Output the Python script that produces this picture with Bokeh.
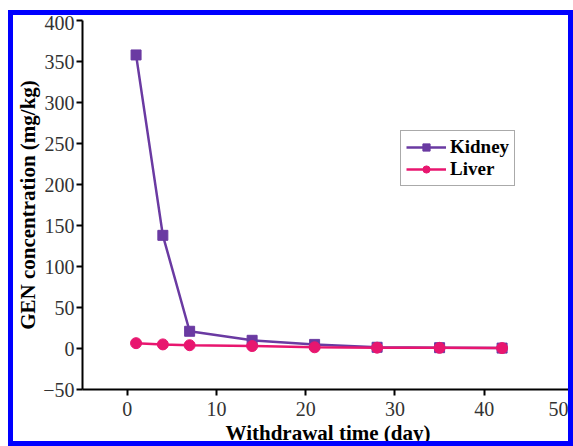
from bokeh.plotting import figure
from bokeh.layouts import column, row
from bokeh.models import Legend, LegendItem, Range1d, ColumnDataSource, Spacer
from bokeh.embed import file_html
from bokeh.resources import INLINE

days = [1, 4, 7, 14, 21, 28, 35, 42]
kidney = [358, 138, 21, 10, 5, 1.5, 1, 0.5]
liver = [6.5, 5, 4, 3, 1.5, 1, 0.8, 0.5]
x_ticks = [0, 10, 20, 30, 40, 50]
y_ticks = [-50, 0, 50, 100, 150, 200, 250, 300, 350, 400]
x_title = "Withdrawal time (day)"
y_title = "GEN concentration (mg/kg)"

KID = "#6a3aa2"
LIV = "#e8166f"
SERIF = "Liberation Serif"

p = figure(width=565, height=436, output_backend="svg", toolbar_location=None,
           x_range=Range1d(-5, 50), y_range=Range1d(-50, 400),
           min_border_left=69, min_border_right=5, min_border_top=5, min_border_bottom=62,
           styles={"border": "5px solid #0000ff"})
p.outline_line_color = None
p.grid.visible = False
p.background_fill_color = "white"
p.border_fill_color = "white"

for ax in (p.xaxis, p.yaxis):
    ax.axis_line_width = 2
    ax.axis_line_color = "black"
    ax.major_tick_line_width = 2
    ax.minor_tick_line_width = 2
    ax.major_tick_out = 6
    ax.major_tick_in = 0
    ax.minor_tick_out = 4
    ax.minor_tick_in = 0
    ax.major_label_text_font = SERIF
    ax.major_label_text_font_size = "20px"
    ax.major_label_text_color = "#333333"
    ax.axis_label_text_font = SERIF
    ax.axis_label_text_font_style = "bold"
    ax.axis_label_text_font_size = "21px"
    ax.axis_label_text_color = "black"
p.xaxis.ticker = x_ticks
p.yaxis.ticker = y_ticks
p.xaxis.ticker.num_minor_ticks = 2
p.yaxis.ticker.num_minor_ticks = 2
p.xaxis.major_label_standoff = 6
p.yaxis.major_label_standoff = 2

p.yaxis.axis_label = y_title
p.yaxis.axis_label_standoff = 0
p.xaxis.axis_label = x_title
p.xaxis.axis_label_standoff = 2

src = ColumnDataSource(dict(d=days, k=kidney, l=liver))
rk1 = p.line("d", "k", source=src, line_color=KID, line_width=2.5)
rk2 = p.scatter("d", "k", source=src, marker="square", size=10, fill_color=KID, line_color=KID)
rl1 = p.line("d", "l", source=src, line_color=LIV, line_width=2.5)
rl2 = p.scatter("d", "l", source=src, marker="circle", size=11, fill_color=LIV, line_color=LIV)

legend = Legend(items=[LegendItem(label="Kidney", renderers=[rk1, rk2]),
                       LegendItem(label="Liver", renderers=[rl1, rl2])],
                location=(318, 203), glyph_width=40, glyph_height=18,
                label_height=18, label_standoff=4, padding=5, spacing=0, margin=0,
                label_text_font=SERIF, label_text_font_style="bold",
                label_text_font_size="19px", label_text_color="black",
                border_line_color="#555555", border_line_width=1.5,
                background_fill_color="white", background_fill_alpha=1)
p.add_layout(legend, "center")

layout = column(Spacer(width=573, height=10),
                row(Spacer(width=8, height=436), p))

open("out.html", "w").write(file_html(layout, INLINE))
